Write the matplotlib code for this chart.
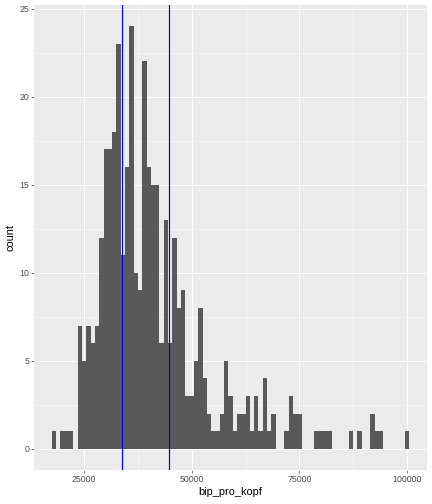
import numpy as np
import matplotlib
matplotlib.use("Agg")
import matplotlib.pyplot as plt
from matplotlib.ticker import MultipleLocator

# Histogramm bip_pro_kopf, binwidth 1000 (Klassenmitten ab 18000)
bin_start = 18000
binwidth = 1000
counts = [1, 0, 1, 1, 1, 0, 7, 5, 7, 6,
          7, 12, 17, 17, 18, 23, 11, 16, 24, 10,
          9, 22, 16, 15, 15, 6, 13, 6, 12, 8,
          9, 3, 3, 5, 8, 4, 2, 1, 1, 2,
          5, 3, 1, 2, 2, 3, 1, 3, 1, 4,
          1, 2, 0, 0, 1, 3, 2, 2, 0, 0,
          0, 1, 1, 1, 1, 0, 0, 0, 0, 1,
          0, 1, 0, 0, 2, 1, 1, 0, 0, 0,
          0, 0, 1]
vlinien = [33700, 44650]
vlinien_farben = ["#0000FF", "#0A0AA8"]
x_ticks = [25000, 50000, 75000, 100000]
y_ticks = [0, 5, 10, 15, 20, 25]

plt.rcParams["font.family"] = ["Liberation Sans", "DejaVu Sans"]

mitten = bin_start + binwidth * np.arange(len(counts))

fig = plt.figure(figsize=(6, 7), dpi=72)
ax = fig.add_axes([34 / 432, 1 - 470 / 504, (427 - 34) / 432, (470 - 5) / 504])
ax.set_facecolor("#EBEBEB")

ax.bar(mitten, counts, width=binwidth, color="#595959", linewidth=0, zorder=3)
for xv, farbe in zip(vlinien, vlinien_farben):
    ax.axvline(xv, color=farbe, lw=1.2, zorder=4)

lo, hi = bin_start - binwidth / 2, mitten[-1] + binwidth / 2
pad = (hi - lo) * 0.05
ax.set_xlim(lo - pad, hi + pad)
ax.set_ylim(-0.05 * max(counts), max(counts) * 1.05)

ax.set_xticks(x_ticks)
ax.set_xticklabels([str(t) for t in x_ticks])
ax.set_yticks(y_ticks)
ax.xaxis.set_minor_locator(MultipleLocator(12500))
ax.yaxis.set_minor_locator(MultipleLocator(2.5))
ax.grid(which="major", color="white", lw=1.07, zorder=1)
ax.grid(which="minor", color="white", lw=0.53, zorder=1)
ax.tick_params(which="major", length=2.75, width=0.6, color="#333333",
               labelsize=8.8, labelcolor="#4D4D4D", pad=2)
ax.tick_params(which="minor", length=0)
for s in ax.spines.values():
    s.set_visible(False)

ax.set_xlabel("bip_pro_kopf", fontsize=11, labelpad=3)
ax.set_ylabel("count", fontsize=11, labelpad=4)

fig.savefig("out.png", dpi=72)
